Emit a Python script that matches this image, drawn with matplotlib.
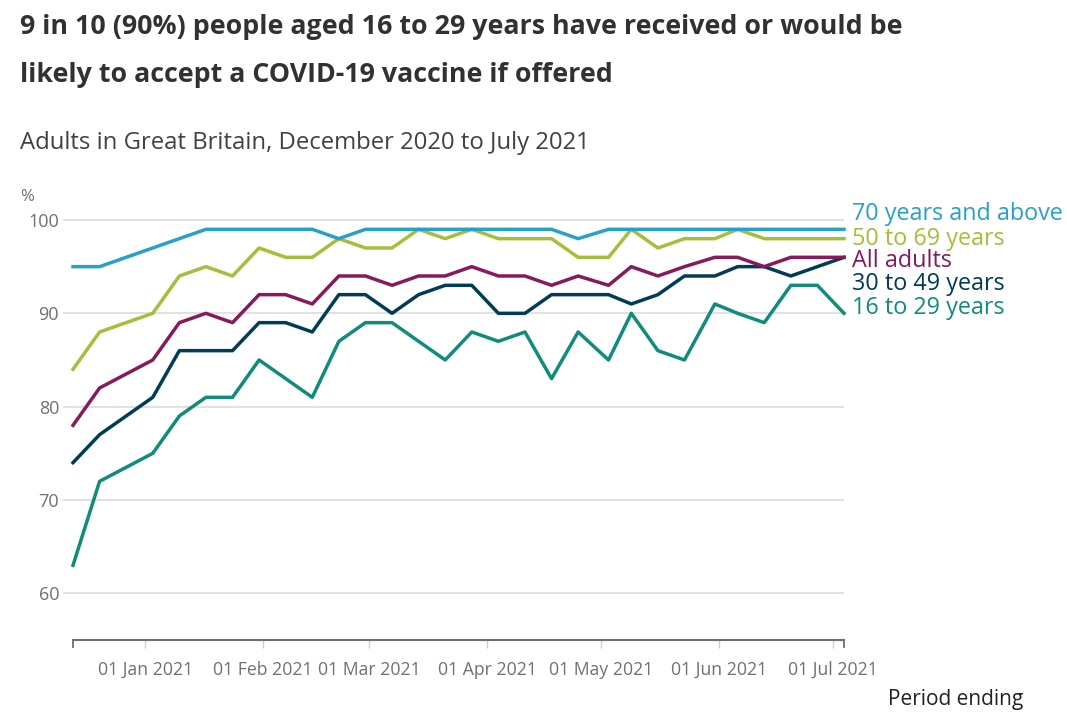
import numpy as np
import pandas as pd
import matplotlib
matplotlib.use("Agg")
import matplotlib.pyplot as plt
import matplotlib.dates as mdates

plt.rcParams['font.family'] = ['Open Sans', 'DejaVu Sans']

# Period ending dates
dates = ["2020-12-13", "2020-12-20", "2021-01-03", "2021-01-10", "2021-01-17",
         "2021-01-24", "2021-01-31", "2021-02-07", "2021-02-14", "2021-02-21",
         "2021-02-28", "2021-03-07", "2021-03-14", "2021-03-21", "2021-03-28",
         "2021-04-04", "2021-04-11", "2021-04-18", "2021-04-25", "2021-05-03",
         "2021-05-09", "2021-05-16", "2021-05-23", "2021-05-31", "2021-06-06",
         "2021-06-13", "2021-06-20", "2021-06-27", "2021-07-04"]

age_70_plus = [95, 95, 97, 98, 99, 99, 99, 99, 99, 98,
               99, 99, 99, 99, 99, 99, 99, 99, 98,
               99, 99, 99, 99, 99, 99, 99, 99, 99, 99]
age_50_69 = [84, 88, 90, 94, 95, 94, 97, 96, 96, 98,
             97, 97, 99, 98, 99, 98, 98, 98, 96,
             96, 99, 97, 98, 98, 99, 98, 98, 98, 98]
all_adults = [78, 82, 85, 89, 90, 89, 92, 92, 91, 94,
              94, 93, 94, 94, 95, 94, 94, 93, 94,
              93, 95, 94, 95, 96, 96, 95, 96, 96, 96]
age_30_49 = [74, 77, 81, 86, 86, 86, 89, 89, 88, 92,
             92, 90, 92, 93, 93, 90, 90, 92, 92,
             92, 91, 92, 94, 94, 95, 95, 94, 95, 96]
age_16_29 = [63, 72, 75, 79, 81, 81, 85, 83, 81, 87,
             89, 89, 87, 85, 88, 87, 88, 83, 88,
             85, 90, 86, 85, 91, 90, 89, 93, 93, 90]

series_names = ["70 years and above", "50 to 69 years", "All adults",
                "30 to 49 years", "16 to 29 years"]
series_values = [age_70_plus, age_50_69, all_adults, age_30_49, age_16_29]
series_colors = ["#27a0cc", "#a8bd3a", "#871a5b", "#003c57", "#118c7b"]
# vertical position of the end labels (data units), spread to avoid overlap
label_y = [100.6, 97.95, 95.6, 93.15, 90.6]

y_ticks = [60, 70, 80, 90, 100]

x = pd.to_datetime(dates)

W, H = 1067, 719
fig = plt.figure(figsize=(W / 100, H / 100), dpi=100)
top_px = 220 - 9.35
ax = fig.add_axes([73 / W, 1 - 640 / H, (844 - 73) / W, (640 - top_px) / H])

# draw from back to front so that lower series sit on top like the original
for name, vals, col in reversed(list(zip(series_names, series_values, series_colors))):
    ax.plot(x, vals, color=col, lw=2.5, solid_joinstyle='round', clip_on=False, zorder=3)

for name, col, ly in zip(series_names, series_colors, label_y):
    ax.text(1.0105, ly, name, transform=ax.get_yaxis_transform(), color=col,
            fontsize=16.8, va='center', ha='left')

ax.set_xlim(x[0], x[-1])
ax.set_ylim(55, 101)

ax.set_yticks(y_ticks)
ax.grid(axis='y', color='#d9d9d9', lw=1.1)
ax.set_axisbelow(True)
ax.tick_params(axis='y', length=7, width=1.1, color='#d9d9d9', pad=3,
               labelsize=13, labelcolor='#707071')

ax.xaxis.set_major_locator(mdates.MonthLocator(bymonthday=1))
ax.xaxis.set_major_formatter(mdates.DateFormatter('%d %b %Y'))
ax.set_xticks([x[0], x[-1]], minor=True)
ax.tick_params(axis='x', which='major', length=6, width=1, color='#cccccc', pad=9,
               labelsize=12.7, labelcolor='#707071')
ax.tick_params(axis='x', which='minor', length=6, width=1.3, color='#707071')

for s in ['top', 'right', 'left']:
    ax.spines[s].set_visible(False)
ax.spines['bottom'].set_color('#707071')
ax.spines['bottom'].set_linewidth(1.5)

fig.text(20 / W, 1 - 27 / H, "9 in 10 (90%) people aged 16 to 29 years have received or would be",
         fontsize=19.3, fontweight='bold', color='#323132', va='center', ha='left')
fig.text(20 / W, 1 - 75 / H, "likely to accept a COVID-19 vaccine if offered",
         fontsize=19.3, fontweight='bold', color='#323132', va='center', ha='left')
fig.text(20 / W, 1 - 143 / H, "Adults in Great Britain, December 2020 to July 2021",
         fontsize=17.2, color='#414042', va='center', ha='left')
fig.text(20 / W, 1 - 197 / H, "%", fontsize=12, color='#707071', va='center', ha='left')
fig.text(1023 / W, 1 - 700 / H, "Period ending", fontsize=15, color='#222222',
         va='center', ha='right')

fig.savefig("out.png", dpi=100)
